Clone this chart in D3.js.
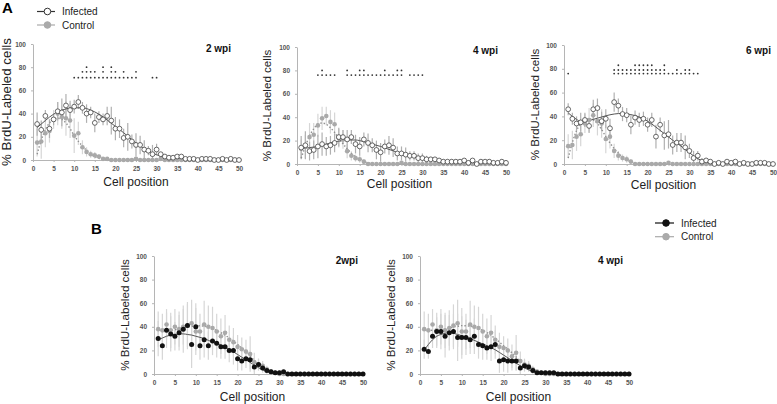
<!DOCTYPE html>
<html><head><meta charset="utf-8">
<script src="https://cdn.jsdelivr.net/npm/d3@7"></script>
<style>body{margin:0;background:#fff}svg{display:block;font-family:"Liberation Sans",Arial,sans-serif}</style>
</head><body>
<svg id="c" width="777" height="404"></svg>
<script>
// ---------- data ----------
const cells = [1,2,3,4,5,6,7,8,9,10,11,12,13,14,15,16,17,18,19,20,21,22,23,24,25,26,27,28,29,30,31,32,33,34,35,36,37,38,39,40,41,42,43,44,45,46,47,48,49,50];
const xTicks = [0,5,10,15,20,25,30,35,40,45,50];
const yTicks = [0,20,40,60,80,100];
const fitCells = [1,2,3,4,5,6,7,8,9,10,12,14,16,18,20,22,24,26,28,30,32,34,36,40,45,50];

// Panel A, 2 wpi
const a2Infected = [31,26,38,27,35,42,41,47,43,46,50,45,40,41,32,37,35,38,34,27,27,19,20,16,13,13,9,8,5,9,5,3,2,2,3,3,1,1,1,0,1,1,1,0,0,1,0,1,0,0];
const a2InfectedErr = [10,8,5,8,5,8,12,10,8,6,6,5,8,5,8,5,5,8,12,10,8,8,12,6,10,8,8,4,8,5,2,2,2,2,2,2,1,1,1,1,1,1,1,1,1,1,1,1,1,1];
const a2Control = [15,16,23,25,35,40,37,36,34,21,23,11,7,5,4,3,1,1,0,0,0,0,0,0,1,0,0,0,0,0,1,0,0,0,0,0,0,0,0,0,0,0,0,0,0,0,0,0,0,0];
const a2ControlErr = [12,15,12,10,8,10,10,15,15,15,10,6,4,3,3,2,1,1,1,1,1,1,1,1,1,0,0,0,0,0,0,0,0,0,0,0,0,0,0,0,0,0,0,0,0,0,0,0,0,0];
const a2InfectedFit = [28,31,34,37,39.5,41.5,43,44,44.8,45,45,43,39.5,34.5,29,23.5,17.5,12,7.5,4.5,2.5,1.5,1,0.5,0.5,0.5];
const a2ControlFit = [5,17,26,32,35,36,35,32,27,21,12,5,1.5,0.3,0,0,0,0,0,0,0,0,0,0,0,0];
const a2SigRow1 = [10,11,12,13,14,15,16,17,18,19,20,21,22,23,24,25,29,30];
const a2SigRow2 = [12,13,14,15,17,19,20,22,25];
const a2SigRow3 = [13,17,19];

// Panel A, 4 wpi
const a4Infected = [14,16,11,12,15,17,15,16,18,23,23,21,23,17,15,21,18,16,12,10,15,16,14,9,9,8,7,7,5,5,4,4,4,3,2,2,2,2,2,3,1,3,0,2,2,2,1,1,2,1];
const a4InfectedErr = [10,12,8,8,10,10,8,8,8,8,6,8,6,8,8,6,8,6,8,8,6,8,8,6,6,6,4,4,4,4,3,2,2,2,2,2,2,2,2,2,2,2,2,2,2,2,2,2,2,2];
const a4Control = [13,15,23,25,33,39,41,36,34,22,21,11,7,5,4,2,0,0,0,0,0,0,0,0,1,0,0,0,0,0,0,0,0,0,0,0,0,0,0,0,0,0,0,0,0,0,0,0,0,0];
const a4ControlErr = [8,10,12,10,10,10,8,10,10,8,8,6,4,3,3,2,1,1,1,1,1,1,1,1,1,0,0,0,0,0,0,0,0,0,0,0,0,0,0,0,0,0,0,0,0,0,0,0,0,0];
const a4InfectedFit = [13,13.5,14,14.5,15,16,17,18,19,19.5,20.5,20.5,19,17,15,12.5,10,8,6,4.5,3.5,2.5,2,1.5,1,0.5];
const a4ControlFit = [5,15,24,30,34,35,34,31,27,22,13,6,2,0.5,0,0,0,0,0,0,0,0,0,0,0,0];
const a4SigRow1 = [5,6,7,8,9,12,13,14,15,16,17,18,19,20,21,22,23,24,25,27,28,29,30];
const a4SigRow2 = [6,12,15,16,21,24,25];

// Panel A, 6 wpi
const a6Infected = [46,38,34,35,37,32,46,47,36,38,30,52,49,42,41,33,39,37,38,33,37,23,33,24,25,16,18,18,14,11,5,7,2,3,2,0,1,0,2,1,2,0,1,0,0,1,1,1,0,0];
const a6InfectedErr = [5,5,6,8,6,6,8,8,8,8,8,8,6,6,6,8,6,6,6,6,6,10,6,12,12,8,8,8,10,6,6,4,3,2,2,1,1,1,1,1,1,1,1,1,1,1,1,1,1,1];
const a6Control = [15,16,23,25,34,37,41,36,34,21,23,11,7,5,4,2,0,0,0,0,0,0,0,0,1,0,0,0,0,0,0,0,0,0,0,0,0,0,0,0,0,0,0,0,0,0,0,0,0,0];
const a6ControlErr = [10,12,12,10,8,10,10,12,12,12,10,6,4,3,3,2,1,1,1,1,1,1,1,1,1,0,0,0,0,0,0,0,0,0,0,0,0,0,0,0,0,0,0,0,0,0,0,0,0,0];
const a6InfectedFit = [43,40,37.5,36,36,36.5,37.5,38.5,39.5,40.5,42,42.5,41.5,39.5,36,31,25.5,20,15,9.5,4.5,1.5,0.5,0,0,0];
const a6ControlFit = [5,18,28,34,37,38,37,34,29,23,13,6,2,0.5,0,0,0,0,0,0,0,0,0,0,0,0];
const a6SigRow1 = [1,12,13,14,15,16,17,18,19,20,21,22,23,24,25,26,27,28,29,30,31,32];
const a6SigRow2 = [12,13,14,15,16,17,18,19,20,21,22,23,24,27,29,30];
const a6SigRow3 = [13,17,18,19,20,21,24];

// Panel B, 2 wpi
const b2Infected = [30,24,37,34,32,35,38,41,25,40,24,29,24,28,26,23,23,20,20,13,11,13,12,6,8,5,3,2,1,1,2,0,0,0,0,0,0,0,0,0,0,0,0,0,0,0,0,0,0,0];
const b2InfectedErr = [15,12,15,15,12,15,20,20,20,20,12,15,12,12,12,10,10,10,12,10,8,8,8,6,5,4,3,2,2,2,1,0,0,0,0,0,0,0,0,0,0,0,0,0,0,0,0,0,0,0];
const b2Control = [38,37,42,37,40,38,40,41,43,36,36,42,40,39,36,32,35,29,27,23,21,19,17,10,8,7,4,2,1,0,0,0,0,0,0,0,0,0,0,0,0,0,0,0,0,0,0,0,0,0];
const b2ControlErr = [15,14,13,15,15,15,15,18,20,20,15,20,18,18,15,15,15,12,12,10,10,10,15,8,5,4,3,2,1,1,0,0,0,0,0,0,0,0,0,0,0,0,0,0,0,0,0,0,0,0];
const b2InfectedFit = [29,30.5,32,33,33.5,34,34,33.5,33,32,30,27,24.5,21,16.5,12,7.5,3.5,1,0,0,0,0,0,0,0];
const b2ControlFit = [38,37.5,37,37,37.5,38,39,40,40.5,41,40.5,38.5,35,30.5,25,19,11.5,5,1,0,0,0,0,0,0,0];

// Panel B, 4 wpi
const b4Infected = [21,19,32,36,36,32,35,36,31,31,31,29,32,25,24,22,23,25,11,12,11,11,11,5,7,6,3,1,1,1,1,1,0,0,0,0,0,0,0,0,0,0,0,0,0,0,0,0,0,0];
const b4InfectedErr = [8,6,10,12,15,18,15,15,20,18,15,12,15,12,12,10,12,12,10,10,10,8,8,6,5,4,3,2,1,1,1,0,0,0,0,0,0,0,0,0,0,0,0,0,0,0,0,0,0,0];
const b4Control = [38,37,42,37,40,37,39,41,43,36,36,42,40,39,36,32,35,29,23,22,20,15,18,11,8,7,4,2,1,0,0,0,0,0,0,0,0,0,0,0,0,0,0,0,0,0,0,0,0,0];
const b4ControlErr = [15,14,13,15,15,15,15,18,20,20,15,20,18,18,15,15,15,12,12,10,10,10,15,8,5,4,3,2,1,1,0,0,0,0,0,0,0,0,0,0,0,0,0,0,0,0,0,0,0,0];
const b4InfectedFit = [20,25,29,32,33.5,34.5,35,34.5,33.5,32.5,30,27,24,20.5,16,11.5,7,3.5,1,0,0,0,0,0,0,0];
const b4ControlFit = [38,37.5,37,37,37.5,38,39,40,40.5,41,40.5,38.5,35,30,24,18,11,5,1,0,0,0,0,0,0,0];

// ---------- drawing ----------
const svg = d3.select('#c');
const FONT = '"Liberation Sans",Arial,sans-serif';

function drawPanel(p){
  const x = d3.scaleLinear().domain([0,50]).range([p.x0,p.x1]);
  const y = d3.scaleLinear().domain([0,100]).range([p.yb,p.yt]);
  const g = svg.append('g');

  const xa = g.append('g').attr('transform',`translate(0,${p.yb})`)
    .call(d3.axisBottom(x).tickValues(xTicks).tickSize(2).tickSizeOuter(0).tickPadding(4));
  const ya = g.append('g').attr('transform',`translate(${p.x0},0)`)
    .call(d3.axisLeft(y).tickValues(yTicks).tickSize(2).tickSizeOuter(0).tickPadding(5));
  [xa,ya].forEach(a=>{
    a.select('.domain').attr('stroke','#b5b5b5');
    a.selectAll('.tick line').attr('stroke','#b5b5b5');
    a.selectAll('text').attr('font-size',6.5).attr('font-weight','bold').attr('fill','#555').attr('font-family',FONT);
  });

  g.append('text').attr('transform',`translate(${p.ytx},${(p.yb+p.yt)/2}) rotate(-90)`)
    .attr('text-anchor','middle').attr('font-size',p.ytf).attr('fill','#222').attr('font-family',FONT)
    .text('% BrdU-Labeled cells');
  g.append('text').attr('x',(p.x0+p.x1)/2 + p.xto).attr('y',p.xty)
    .attr('text-anchor','middle').attr('font-size',12).attr('fill','#222').attr('font-family',FONT)
    .text('Cell position');
  g.append('text').attr('x',p.tx).attr('y',p.ty).attr('text-anchor','end')
    .attr('font-size',10).attr('font-weight','bold').attr('fill','#111').attr('font-family',FONT)
    .text(p.title);

  function errs(vals, e, color){
    g.append('g').selectAll('line').data(cells).join('line')
      .attr('x1',(c)=>x(c)).attr('x2',(c)=>x(c))
      .attr('y1',(c,i)=>y(Math.max(0,vals[i]-e[i]))).attr('y2',(c,i)=>y(vals[i]+e[i]))
      .attr('stroke',color).attr('stroke-width',1.2);
  }
  errs(p.ctl, p.ctlErr, '#d6d6d6');
  errs(p.inf, p.infErr, p.infErrColor);

  const line = d3.line().x((d)=>x(d[0])).y((d)=>y(d[1])).curve(d3.curveMonotoneX);
  g.append('path').attr('d',line(fitCells.map((c,i)=>[c,p.ctlFit[i]])))
    .attr('fill','none').attr('stroke','#8f8f8f').attr('stroke-width',1.4).attr('stroke-dasharray','1.4,2');
  g.append('path').attr('d',line(fitCells.map((c,i)=>[c,p.infFit[i]])))
    .attr('fill','none').attr('stroke','#555').attr('stroke-width',1);

  g.append('g').selectAll('circle').data(cells).join('circle')
    .attr('cx',(c)=>x(c)).attr('cy',(c,i)=>y(p.ctl[i])).attr('r',2.3).attr('fill','#a9a9a9');
  g.append('g').selectAll('circle').data(cells).join('circle')
    .attr('cx',(c)=>x(c)).attr('cy',(c,i)=>y(p.inf[i])).attr('r',p.open?2.4:2.5)
    .attr('fill',p.open?'#fff':'#111').attr('stroke',p.open?'#444':'none').attr('stroke-width',0.8);

  (p.sig||[]).forEach(([rowVals,level])=>{
    g.append('g').selectAll('circle').data(rowVals).join('circle')
      .attr('cx',(c)=>x(c)).attr('cy',y(level)).attr('r',0.9).attr('fill','#333');
  });
}

const panels = [
  {x0:33,x1:239,yb:160,yt:44,ytx:11,ytf:13.3,xty:186,xto:0,tx:231,ty:52,title:'2 wpi',open:true,infErrColor:'#b0b0b0',
   inf:a2Infected,infErr:a2InfectedErr,ctl:a2Control,ctlErr:a2ControlErr,infFit:a2InfectedFit,ctlFit:a2ControlFit,
   sig:[[a2SigRow1,71],[a2SigRow2,76],[a2SigRow3,80]]},
  {x0:297,x1:506,yb:164,yt:47,ytx:271,ytf:11.6,xty:188,xto:-2,tx:498,ty:54,title:'4 wpi',open:true,infErrColor:'#b0b0b0',
   inf:a4Infected,infErr:a4InfectedErr,ctl:a4Control,ctlErr:a4ControlErr,infFit:a4InfectedFit,ctlFit:a4ControlFit,
   sig:[[a4SigRow1,76],[a4SigRow2,80]]},
  {x0:564,x1:773,yb:164,yt:45,ytx:539,ytf:11.6,xty:189,xto:-5,tx:771,ty:54,title:'6 wpi',open:true,infErrColor:'#b0b0b0',
   inf:a6Infected,infErr:a6InfectedErr,ctl:a6Control,ctlErr:a6ControlErr,infFit:a6InfectedFit,ctlFit:a6ControlFit,
   sig:[[a6SigRow1,76],[a6SigRow2,79],[a6SigRow3,83]]},
  {x0:154,x1:363,yb:374,yt:256,ytx:129,ytf:11.6,xty:401,xto:-6,tx:358,ty:264,title:'2wpi',open:false,infErrColor:'#d6d6d6',
   inf:b2Infected,infErr:b2InfectedErr,ctl:b2Control,ctlErr:b2ControlErr,infFit:b2InfectedFit,ctlFit:b2ControlFit},
  {x0:420,x1:629,yb:374,yt:256,ytx:395,ytf:11.6,xty:401,xto:-6,tx:623,ty:264,title:'4 wpi',open:false,infErrColor:'#d6d6d6',
   inf:b4Infected,infErr:b4InfectedErr,ctl:b4Control,ctlErr:b4ControlErr,infFit:b4InfectedFit,ctlFit:b4ControlFit}
];
panels.forEach(drawPanel);

svg.append('text').attr('x',2).attr('y',13).attr('font-size',15).attr('font-weight','bold').attr('font-family',FONT).text('A');
svg.append('text').attr('x',91).attr('y',234).attr('font-size',15).attr('font-weight','bold').attr('font-family',FONT).text('B');

function legend(lx, ly, items){
  items.forEach((it,i)=>{
    const yy = ly + i*it.dy;
    svg.append('line').attr('x1',lx).attr('x2',lx+it.len).attr('y1',yy).attr('y2',yy).attr('stroke',it.stroke).attr('stroke-width',1.2);
    svg.append('circle').attr('cx',lx+it.len*0.58).attr('cy',yy).attr('r',3.3)
      .attr('fill',it.fill).attr('stroke',it.cstroke).attr('stroke-width',1);
    svg.append('text').attr('x',lx+it.len+7).attr('y',yy+3.5).attr('font-size',10).attr('fill','#222').attr('font-family',FONT).text(it.label);
  });
}
legend(37,11.5,[
  {label:'Infected',stroke:'#333',fill:'#fff',cstroke:'#333',len:18,dy:13.5},
  {label:'Control',stroke:'#aaa',fill:'#aaa',cstroke:'#aaa',len:18,dy:13.5}
]);
legend(655,223,[
  {label:'Infected',stroke:'#111',fill:'#111',cstroke:'#111',len:19,dy:13.7},
  {label:'Control',stroke:'#aaa',fill:'#aaa',cstroke:'#aaa',len:19,dy:13.7}
]);
</script>
</body></html>
